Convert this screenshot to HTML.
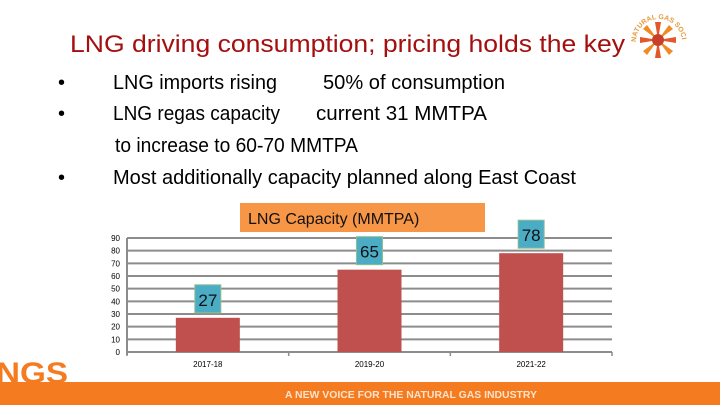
<!DOCTYPE html>
<html><head><meta charset="utf-8"><style>
body{margin:0;width:720px;height:405px;overflow:hidden;background:#fff;font-family:"Liberation Sans",sans-serif}
</style></head><body>
<svg id="s" width="720" height="405" xmlns="http://www.w3.org/2000/svg">
<text x="70" y="52" font-size="24" fill="#a50f0f" textLength="555" lengthAdjust="spacingAndGlyphs">LNG driving consumption; pricing holds the key</text>
<g>
<g transform="translate(658,40)" fill="#e2572b">
<polygon points="-3,-18 3,-18 0,0"/><polygon points="18,-3 18,3 0,0"/><polygon points="-3,18 3,18 0,0"/><polygon points="-18,-3 -18,3 0,0"/>
<polygon points="11,-15 15,-11 0,0" fill="#f08a24"/><polygon points="15,11 11,15 0,0" fill="#f08a24"/><polygon points="-11,15 -15,11 0,0" fill="#f08a24"/><polygon points="-15,-11 -11,-15 0,0" fill="#f08a24"/>
<circle r="6" fill="#c8402a"/></g>
<path id="arc" d="M636,42 A23,23 0 0 1 682,42" fill="none"/>
<text font-size="7" fill="#e59a3c" font-weight="bold"><textPath href="#arc">NATURAL GAS SOCIETY</textPath></text>
</g>
<g font-size="20" fill="#000">
<text x="58" y="89">•</text><text x="113" y="89" textLength="164" lengthAdjust="spacingAndGlyphs">LNG imports rising</text><text x="323" y="89" textLength="182" lengthAdjust="spacingAndGlyphs">50% of consumption</text>
<text x="58" y="120">•</text><text x="113" y="120" textLength="167" lengthAdjust="spacingAndGlyphs">LNG regas capacity</text><text x="316" y="120" textLength="171" lengthAdjust="spacingAndGlyphs">current 31 MMTPA</text>
<text x="115" y="152" textLength="243" lengthAdjust="spacingAndGlyphs">to increase to 60-70 MMTPA</text>
<text x="58" y="184">•</text><text x="113" y="184" textLength="463" lengthAdjust="spacingAndGlyphs">Most additionally capacity planned along East Coast</text>
</g>
<rect x="240" y="203" width="245" height="29" fill="#f79646"/>
<text x="248" y="224" font-size="16" fill="#111">LNG Capacity (MMTPA)</text>
<g id="chart"></g>
<rect x="0" y="382" width="720" height="23" fill="#f47b20"/>
<text x="285" y="398" font-size="10" font-weight="bold" fill="#fde3cc" textLength="252" lengthAdjust="spacingAndGlyphs">A NEW VOICE FOR THE NATURAL GAS INDUSTRY</text>
<text x="-4" y="383" font-size="30" font-weight="bold" fill="#f47b20" textLength="72" lengthAdjust="spacingAndGlyphs">NGS</text>
</svg>
<script>
const categories=["2017-18","2019-20","2021-22"];
const values=[27,65,78];
const yTicks=[0,10,20,30,40,50,60,70,80,90];
const NS="http://www.w3.org/2000/svg";
const g=document.getElementById('chart');
const x0=127,x1=612,y0=352,yTop=238,yMax=90;
const y=v=>y0-(v/yMax)*(y0-yTop);
const bw=(x1-x0)/categories.length;
const cx=i=>x0+bw*(i+0.5);
function mk(t,a){const e=document.createElementNS(NS,t);for(const k in a)e.setAttribute(k,a[k]);g.appendChild(e);return e;}
yTicks.forEach(t=>{
 const l=mk('line',{x1:x0,x2:x1,y1:y(t),y2:y(t),stroke:'#8c8c8c','stroke-width':2});
 
 
 const tx=mk('text',{x:120,y:y(t)+3,'font-size':8,'text-anchor':'end',fill:'#000'});
 tx.textContent=t;
 
 
});
const ax=mk('line',{x1:x0,x2:x0,y1:yTop,y2:y0+3,stroke:'#8c8c8c','stroke-width':2});


for(let i=0;i<=categories.length;i++){const tk=mk('line',{x1:x0+bw*i,x2:x0+bw*i,y1:y0,y2:y0+4,stroke:'#8c8c8c','stroke-width':1.5});

}
categories.forEach((c,i)=>{
 const b=mk('rect',{x:cx(i)-32,y:y(values[i]),width:64,height:y0-y(values[i]),fill:'#c0504d'});
 
 
 const bx=mk('rect',{x:cx(i)-13,y:y(values[i])-33,width:26,height:28,fill:'#4bacc6',stroke:'#8fbf8f','stroke-width':1});
 
 
 const vt=mk('text',{x:cx(i),y:y(values[i])-12,'font-size':17,'text-anchor':'middle',fill:'#111'});
 vt.textContent=values[i];
 
 
 const xl=mk('text',{x:cx(i),y:367,'font-size':8,'text-anchor':'middle',fill:'#000'});
 xl.textContent=c;
 
 
});
</script>
</body></html>
